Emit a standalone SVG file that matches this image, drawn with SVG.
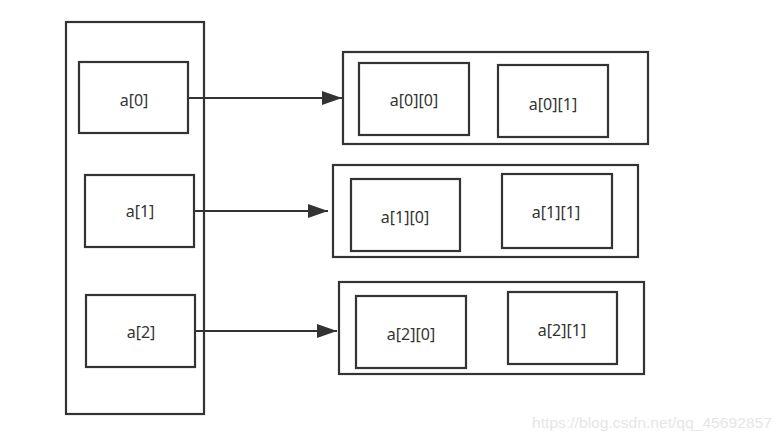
<svg xmlns="http://www.w3.org/2000/svg" width="783" height="442" viewBox="0 0 783 442">
<style>
.box{fill:#fff;stroke:#333;stroke-width:2.2}
.t{font-family:"Noto Sans","Liberation Sans",sans-serif;font-size:16px;fill:#333;text-anchor:middle}
.c{stroke:#333;stroke-width:2.2;fill:none}
.wm{font-family:"Liberation Sans",Arial,sans-serif;font-size:14.5px;fill:#e6e6e6}
</style>
<defs>
<marker id="ah" markerWidth="20" markerHeight="14" refX="20" refY="7" orient="auto" markerUnits="userSpaceOnUse">
<path d="M0,0 L20,7 L0,14 Z" fill="#333"/>
</marker>
</defs>
<rect width="783" height="442" fill="#fff"/>
<g id="outer">
<rect class="box" x="66" y="22" width="138" height="392"/>
</g>
<g id="a0"><rect class="box" x="79" y="62" width="109" height="71"/><text class="t" x="134" y="106">a[0]</text></g>
<g id="a1"><rect class="box" x="85" y="175" width="109" height="72"/><text class="t" x="140" y="217">a[1]</text></g>
<g id="a2"><rect class="box" x="86" y="295" width="109" height="72"/><text class="t" x="141" y="338">a[2]</text></g>
<g id="row0">
<rect class="box" x="343" y="52" width="305" height="92"/>
</g>
<g id="a00"><rect class="box" x="359" y="63" width="110" height="72"/><text class="t" x="414" y="106">a[0][0]</text></g>
<g id="a01"><rect class="box" x="498" y="65" width="110" height="72"/><text class="t" x="553" y="110">a[0][1]</text></g>
<g id="row1">
<rect class="box" x="333" y="165" width="305" height="92"/>
</g>
<g id="a10"><rect class="box" x="351" y="179" width="109" height="72"/><text class="t" x="405" y="223">a[1][0]</text></g>
<g id="a11"><rect class="box" x="502" y="174" width="110" height="74"/><text class="t" x="556" y="218">a[1][1]</text></g>
<g id="row2">
<rect class="box" x="339" y="282" width="305" height="92"/>
</g>
<g id="a20"><rect class="box" x="356" y="296" width="110" height="72"/><text class="t" x="411" y="340">a[2][0]</text></g>
<g id="a21"><rect class="box" x="508" y="292" width="109" height="72"/><text class="t" x="562" y="336">a[2][1]</text></g>
<g id="connectors">
<line class="c" x1="188" y1="98" x2="342" y2="98" marker-end="url(#ah)"/>
<line class="c" x1="194" y1="211" x2="328" y2="211" marker-end="url(#ah)"/>
<line class="c" x1="195" y1="331" x2="337" y2="331" marker-end="url(#ah)"/>
</g>
<text class="wm" x="532" y="428" textLength="240" lengthAdjust="spacingAndGlyphs">https://blog.csdn.net/qq_45692857</text>
</svg>
